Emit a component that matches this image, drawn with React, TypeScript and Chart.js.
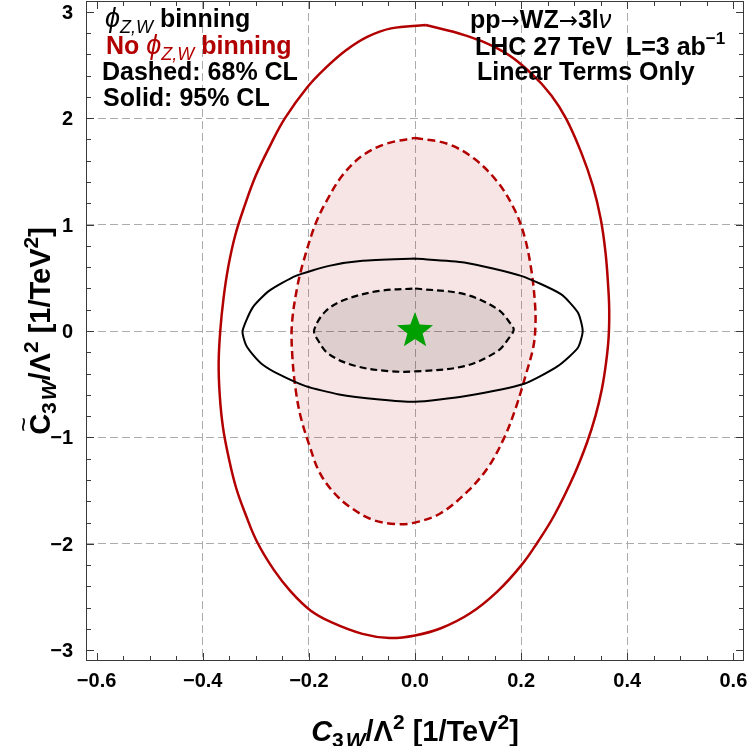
import React, { useEffect, useRef } from "react";
import { Chart, registerables } from "chart.js";

Chart.register(...registerables);

// ---- axes ----
const X_RANGE = [-0.62, 0.62];
const Y_RANGE = [-3.1, 3.1];
const X_MAJOR = [-0.6, -0.4, -0.2, 0, 0.2, 0.4, 0.6];
const Y_MAJOR = [-3, -2, -1, 0, 1, 2, 3];

// ---- contours: [C3W, C~3W] pairs, traced clockwise ----
// No phi binning, 95% CL (solid red)
const RED_SOLID: number[][] = [
  [0.02, 2.874], [0.093, 2.78], [0.168, 2.62], [0.219, 2.42], [0.257, 2.213],
  [0.285, 1.993], [0.313, 1.68], [0.335, 1.365], [0.35, 1.052], [0.359, 0.738],
  [0.364, 0.424], [0.366, 0.2], [0.365, -0.05], [0.36, -0.3], [0.352, -0.55],
  [0.34, -0.8], [0.324, -1.05], [0.3, -1.35], [0.263, -1.726], [0.232, -1.977],
  [0.201, -2.197], [0.155, -2.448], [0.104, -2.652], [0.05, -2.79], [0.0, -2.86],
  [-0.048, -2.884], [-0.099, -2.845], [-0.158, -2.735], [-0.197, -2.625], [-0.234, -2.448],
  [-0.266, -2.244], [-0.298, -1.977], [-0.319, -1.726], [-0.337, -1.475], [-0.351, -1.192],
  [-0.362, -0.9], [-0.368, -0.6], [-0.37, -0.3], [-0.367, 0.0], [-0.361, 0.3],
  [-0.352, 0.6], [-0.339, 0.895], [-0.321, 1.177], [-0.3, 1.46], [-0.273, 1.742],
  [-0.245, 2.0], [-0.203, 2.29], [-0.17, 2.464], [-0.13, 2.637], [-0.09, 2.763],
  [-0.045, 2.843],
];

// No phi binning, 68% CL (dashed red, filled)
const RED_DASHED: number[][] = [
  [0.0, 1.814], [0.0615, 1.758], [0.112, 1.617], [0.156, 1.397], [0.187, 1.146],
  [0.206, 0.895], [0.219, 0.581], [0.226, 0.267], [0.227, 0.05], [0.223, -0.15],
  [0.209, -0.408], [0.19, -0.721], [0.168, -1.004], [0.137, -1.286], [0.099, -1.507],
  [0.049, -1.71], [0.0, -1.8], [-0.036, -1.814], [-0.08, -1.773], [-0.124, -1.648],
  [-0.155, -1.507], [-0.181, -1.318], [-0.1995, -1.067], [-0.215, -0.816], [-0.2245, -0.565],
  [-0.231, -0.25], [-0.232, 0.06], [-0.2215, 0.424], [-0.209, 0.675], [-0.188, 1.0],
  [-0.168, 1.209], [-0.137, 1.46], [-0.099, 1.648], [-0.055, 1.758],
];

// phi binning, 95% CL (solid black)
const BLACK_SOLID: number[][] = [
  [0.0, 0.68], [0.093, 0.644], [0.2, 0.518], [0.275, 0.346], [0.307, 0.173],
  [0.316, 0.0], [0.307, -0.157], [0.269, -0.33], [0.206, -0.495], [0.093, -0.612],
  [0.0, -0.665], [-0.067, -0.643], [-0.143, -0.596], [-0.206, -0.518], [-0.256, -0.408],
  [-0.2875, -0.314], [-0.306, -0.219], [-0.319, -0.125], [-0.325, 0.0], [-0.306, 0.22],
  [-0.275, 0.377], [-0.2245, 0.518], [-0.162, 0.612], [-0.099, 0.659],
];

// phi binning, 68% CL (dashed black, filled)
const BLACK_DASHED: number[][] = [
  [0.0, 0.399], [0.093, 0.346], [0.156, 0.204], [0.181, 0.063], [0.186, 0.01],
  [0.178, -0.06], [0.156, -0.188], [0.093, -0.33], [0.0, -0.38], [-0.0485, -0.377],
  [-0.111, -0.33], [-0.162, -0.219], [-0.184, -0.078], [-0.19, 0.01], [-0.168, 0.188],
  [-0.13, 0.298], [-0.067, 0.377],
];

// Standard Model point
const SM_POINT: number[][] = [[0, 0]];

const RED = "#b20000";
const FONT = '"Liberation Sans", Arial, "DejaVu Sans", sans-serif';
const ARROW_FONT = '"DejaVu Sans", sans-serif';

const closed = (pts: number[][]) =>
  pts.concat([pts[0]]).map(([x, y]) => ({ x, y }));

const isEdge = (v: number, edge: number) => Math.abs(Math.abs(v) - edge) < 1e-6;

const fmtMinus = (s: string) => s.replace("-", "\u2212");
const fmtX = (v: number) => fmtMinus((Math.abs(v) < 1e-9 ? 0 : v).toFixed(1));
const fmtY = (v: number) => fmtMinus(String(Math.round(v)));

function makeStar(R: number, color: string) {
  const s = Math.ceil(R * 2 + 2);
  const c = document.createElement("canvas");
  c.width = s;
  c.height = s;
  const g = c.getContext("2d")!;
  g.fillStyle = color;
  g.beginPath();
  for (let i = 0; i < 10; i++) {
    const r = i % 2 === 0 ? R : R * 0.42;
    const a = -Math.PI / 2 + (i * Math.PI) / 5;
    const px = s / 2 + r * Math.cos(a);
    const py = s / 2 + r * Math.sin(a);
    if (i === 0) g.moveTo(px, py);
    else g.lineTo(px, py);
  }
  g.closePath();
  g.fill();
  return c;
}

type Seg = {
  t: string;
  size?: number;
  italic?: boolean;
  light?: boolean;
  dy?: number;
  tilde?: boolean;
  family?: string;
};

const segFont = (s: Seg, base: number) =>
  `${s.italic ? "italic " : ""}${s.light ? "normal" : "bold"} ${s.size ?? base}px ${s.family ?? FONT}`;

function drawRich(
  ctx: CanvasRenderingContext2D,
  x: number,
  y: number,
  segs: Seg[],
  base: number,
  color: string,
  align: "left" | "center"
) {
  ctx.save();
  ctx.textBaseline = "alphabetic";
  ctx.textAlign = "left";
  ctx.fillStyle = color;
  let total = 0;
  const widths = segs.map((s) => {
    ctx.font = segFont(s, base);
    const w = ctx.measureText(s.t).width;
    total += w;
    return w;
  });
  let cx = align === "center" ? x - total / 2 : x;
  segs.forEach((s, i) => {
    ctx.font = segFont(s, base);
    ctx.fillText(s.t, cx, y + (s.dy ?? 0));
    if (s.tilde) {
      ctx.font = `normal ${Math.round(base * 0.85)}px ${FONT}`;
      ctx.textAlign = "center";
      ctx.fillText("~", cx + widths[i] / 2, y - base * 0.62);
      ctx.textAlign = "left";
    }
    cx += widths[i];
  });
  ctx.restore();
}

const T = 25; // annotation font size
const SUB = 18;
const TT = 29; // axis title font size
const TSUB = 21;

const phiSub: Seg[] = [
  { t: "\u03D5", italic: true, light: true, size: 27 },
  { t: "Z,W", italic: true, light: true, size: SUB, dy: 6 },
];

const arrow: Seg = { t: "\u2192", family: ARROW_FONT, light: true, size: 23 };

const axisTitle = (tilde: boolean): Seg[] => [
  { t: "C", italic: !tilde, tilde },
  { t: "3", size: TSUB, dy: 6 },
  { t: " ", size: 7 },
  { t: "W", italic: true, size: TSUB, dy: 6 },
  { t: "/\u039B" },
  { t: "2", size: TSUB, dy: -12 },
  { t: " [1/TeV" },
  { t: "2", size: TSUB, dy: -12 },
  { t: "]" },
];

const textPlugin = {
  id: "annotations",
  afterDraw(chart: any) {
    const ctx: CanvasRenderingContext2D = chart.ctx;
    const a = chart.chartArea;
    const xs = chart.scales.x;
    const ys = chart.scales.y;

    // tick labels
    ctx.save();
    ctx.fillStyle = "#000";
    ctx.font = `bold 20px ${FONT}`;
    ctx.textBaseline = "alphabetic";
    ctx.textAlign = "center";
    xs.ticks.forEach((t: any) => ctx.fillText(fmtX(t.value), xs.getPixelForValue(t.value), a.bottom + 26));
    ctx.textAlign = "right";
    ys.ticks.forEach((t: any) => ctx.fillText(fmtY(t.value), a.left - 13, ys.getPixelForValue(t.value) + 7));
    ctx.restore();

    // legend block, upper left
    drawRich(ctx, 105, 27, [...phiSub, { t: " binning" }], T, "#000", "left");
    drawRich(ctx, 106, 53.5, [{ t: "No " }, ...phiSub, { t: " binning" }], T, RED, "left");
    drawRich(ctx, 102, 80, [{ t: "Dashed: 68% CL" }], T, "#000", "left");
    drawRich(ctx, 103, 106, [{ t: "Solid: 95% CL" }], T, "#000", "left");
    // process block, upper right
    drawRich(
      ctx, 470, 28,
      [{ t: "pp" }, arrow, { t: "WZ" }, arrow, { t: "3l" }, { t: "\u03BD", italic: true, light: true }],
      T, "#000", "left"
    );
    drawRich(ctx, 475, 55, [{ t: "LHC 27 TeV  L=3 ab" }, { t: "\u22121", size: 17, dy: -11 }], T, "#000", "left");
    drawRich(ctx, 477, 80, [{ t: "Linear Terms Only" }], T, "#000", "left");
    // axis titles
    const midX = (a.left + a.right) / 2;
    const midY = (a.top + a.bottom) / 2;
    drawRich(ctx, midX, 741, axisTitle(false), TT, "#000", "center");
    ctx.save();
    ctx.translate(50, midY);
    ctx.rotate(-Math.PI / 2);
    drawRich(ctx, 0, 0, axisTitle(true), TT, "#000", "center");
    ctx.restore();
  },
};

const framePlugin = {
  id: "frame",
  afterDatasetsDraw(chart: any) {
    const { ctx, chartArea: a, scales } = chart;
    const xs = scales.x;
    const ys = scales.y;
    ctx.save();
    ctx.strokeStyle = "#3a3a3a";
    ctx.lineWidth = 1;
    ctx.strokeRect(a.left + 0.5, a.top + 0.5, a.right - a.left - 1, a.bottom - a.top - 1);
    ctx.beginPath();
    for (let i = -12; i <= 12; i++) {
      const len = i % 4 === 0 ? 8 : 5;
      const px = Math.round(xs.getPixelForValue(i * 0.05)) + 0.5;
      ctx.moveTo(px, a.bottom);
      ctx.lineTo(px, a.bottom - len);
      ctx.moveTo(px, a.top);
      ctx.lineTo(px, a.top + len);
    }
    for (let i = -15; i <= 15; i++) {
      const len = i % 5 === 0 ? 8 : 5;
      const py = Math.round(ys.getPixelForValue(i * 0.2)) + 0.5;
      ctx.moveTo(a.left, py);
      ctx.lineTo(a.left + len, py);
      ctx.moveTo(a.right, py);
      ctx.lineTo(a.right - len, py);
    }
    ctx.stroke();
    ctx.restore();
  },
};

export default function App() {
  const ref = useRef<HTMLCanvasElement>(null);

  useEffect(() => {
    const star = makeStar(19, "#00a000");
    const chart = new Chart(ref.current!, {
      type: "scatter",
      data: {
        datasets: [
          {
            data: SM_POINT.map(([x, y]) => ({ x, y })),
            pointStyle: star,
            pointRadius: 19,
            showLine: false,
          },
          {
            data: closed(BLACK_SOLID),
            showLine: true,
            pointRadius: 0,
            borderColor: "#000",
            borderWidth: 2,
            tension: 0.2,
            fill: false,
          },
          {
            data: closed(BLACK_DASHED),
            showLine: true,
            pointRadius: 0,
            borderColor: "#000",
            borderWidth: 2.2,
            borderDash: [7, 4],
            tension: 0.35,
            fill: "shape",
            backgroundColor: "rgba(0,0,0,0.1)",
          },
          {
            data: closed(RED_DASHED),
            showLine: true,
            pointRadius: 0,
            borderColor: RED,
            borderWidth: 2.5,
            borderDash: [8, 4.5],
            tension: 0.35,
            fill: "shape",
            backgroundColor: "rgba(178,0,0,0.1)",
          },
          {
            data: closed(RED_SOLID),
            showLine: true,
            pointRadius: 0,
            borderColor: RED,
            borderWidth: 2.5,
            tension: 0.4,
            fill: false,
          },
        ] as any,
      },
      options: {
        animation: false,
        responsive: false,
        devicePixelRatio: 1,
        layout: { autoPadding: false, padding: { top: 1, right: 6, left: 86, bottom: 85 } },
        plugins: {
          legend: { display: false },
          tooltip: { enabled: false },
          filler: { propagate: false },
        },
        scales: {
          x: {
            type: "linear",
            min: X_RANGE[0],
            max: X_RANGE[1],
            afterBuildTicks: (s: any) => {
              s.ticks = X_MAJOR.map((value) => ({ value }));
            },
            afterFit: (s: any) => {
              s.height = 0;
            },
            grid: {
              drawTicks: false,
              lineWidth: 1,
              color: (c: any) => (isEdge(c.tick?.value ?? 0, 0.6) ? "rgba(0,0,0,0)" : "#acacac"),
            },
            border: { display: false, dash: [8, 4] },
            ticks: { display: false },
          },
          y: {
            type: "linear",
            min: Y_RANGE[0],
            max: Y_RANGE[1],
            afterBuildTicks: (s: any) => {
              s.ticks = Y_MAJOR.map((value) => ({ value }));
            },
            afterFit: (s: any) => {
              s.width = 0;
            },
            grid: {
              drawTicks: false,
              lineWidth: 1,
              color: (c: any) => (isEdge(c.tick?.value ?? 0, 3) ? "rgba(0,0,0,0)" : "#acacac"),
            },
            border: { display: false, dash: [8, 4] },
            ticks: { display: false },
          },
        },
      },
      plugins: [framePlugin, textPlugin],
    } as any);
    return () => chart.destroy();
  }, []);

  return (
    <div style={{ position: "absolute", left: 0, top: 0, width: 750, height: 746, background: "#fff" }}>
      <canvas ref={ref} width={750} height={746} style={{ display: "block", width: 750, height: 746 }} />
    </div>
  );
}
